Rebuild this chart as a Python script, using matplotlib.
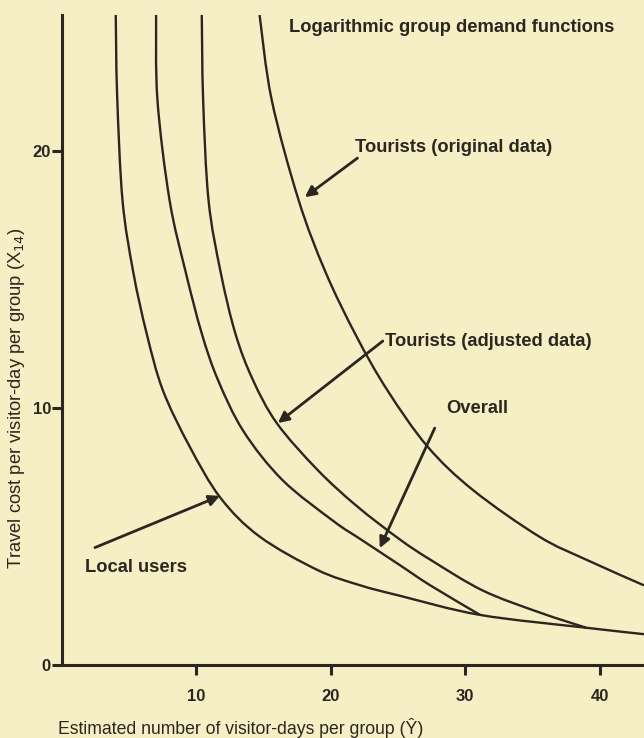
import numpy as np
import matplotlib.pyplot as plt
from matplotlib.path import Path
from matplotlib.patches import PathPatch

plt.rcParams['font.family'] = ['Liberation Sans', 'DejaVu Sans']

bg = '#f6eec4'
ink = '#2b2620'

# traced curves: x = visitor-days per group, y = travel cost
local_x = [4.0, 4.1, 4.5, 5.3, 6.3, 7.5, 9.5, 11.8, 14.7, 19.0, 22.2, 25.1, 31.1, 39.0, 43.3]
local_y = [25.3, 22.2, 18.1, 15.3, 12.9, 10.7, 8.5, 6.5, 5.0, 3.7, 3.1, 2.7, 1.95, 1.45, 1.2]

overall_x = [7.0, 7.1, 8.0, 9.2, 10.4, 11.6, 13.5, 16.4, 20.2, 22.2, 25.1, 27.4, 31.1]
overall_y = [25.3, 22.0, 18.1, 15.3, 12.9, 11.1, 9.1, 7.2, 5.6, 4.9, 3.9, 3.1, 1.95]

adj_x = [10.4, 10.5, 10.9, 11.8, 12.9, 14.2, 16.0, 19.0, 21.9, 25.1, 27.4, 31.3, 35.5, 39.0]
adj_y = [25.3, 22.0, 18.1, 15.3, 12.9, 11.1, 9.4, 7.6, 6.2, 4.9, 4.1, 2.9, 2.05, 1.45]

orig_x = [14.7, 15.6, 17.6, 19.6, 21.9, 24.2, 27.2, 30.6, 35.5, 39.0, 43.3]
orig_y = [25.3, 22.0, 18.1, 15.3, 12.8, 10.7, 8.5, 6.8, 5.0, 4.1, 3.1]

xticks = [10, 20, 30, 40]
yticks = [0, 10, 20]


def smooth_path(xs, ys):
    # catmull-rom through the traced points, drawn as bezier segments
    p = np.column_stack([xs, ys])
    ext = np.vstack([p[0], p, p[-1]])
    verts = [p[0]]
    codes = [Path.MOVETO]
    for i in range(1, len(ext) - 2):
        c1 = ext[i] + (ext[i+1] - ext[i-1]) / 6
        c2 = ext[i+1] - (ext[i+2] - ext[i]) / 6
        verts += [c1, c2, ext[i+1]]
        codes += [Path.CURVE4] * 3
    return Path(verts, codes)


fig = plt.figure(figsize=(6.44, 7.38), dpi=100, facecolor=bg)
ax = fig.add_axes([62/644, 73/738, 582/644, 650/738])
ax.set_facecolor(bg)

for xs, ys in [(local_x, local_y), (overall_x, overall_y), (adj_x, adj_y), (orig_x, orig_y)]:
    ax.add_patch(PathPatch(smooth_path(xs, ys), fill=False, edgecolor=ink, lw=1.7))

ax.set_xlim(0, 43.3)
ax.set_ylim(0, 25.3)
for s in ['top', 'right']:
    ax.spines[s].set_visible(False)
for s in ['left', 'bottom']:
    ax.spines[s].set_linewidth(2.2)
    ax.spines[s].set_color(ink)

ax.set_xticks(xticks)
ax.set_yticks(yticks)
ax.tick_params(direction='out', length=7, width=2.2, color=ink, labelcolor=ink,
               labelsize=12)
ax.tick_params(axis='x', pad=10)
ax.tick_params(axis='y', pad=1)
for lab in ax.get_xticklabels() + ax.get_yticklabels():
    lab.set_fontweight('bold')

ax.set_xlabel('Estimated number of visitor-days per group (Ŷ)', fontsize=12.7, color=ink)
ax.xaxis.set_label_coords(0.3076, -0.082)
ax.set_ylabel('Travel cost per visitor-day per group (X$_{14}$)', fontsize=13.2, color=ink)
ax.yaxis.set_label_coords(-0.06, 0.41)

fs = 13.2
ax.text(16.9, 24.8, 'Logarithmic group demand functions', fontsize=fs,
        fontweight='bold', color=ink, va='center')

arrow = dict(arrowstyle='-|>', color=ink, lw=2, mutation_scale=16, shrinkA=0, shrinkB=0)
ax.annotate('', xy=(18.07, 18.21), xytext=(21.98, 19.73), arrowprops=arrow)
ax.text(21.8, 20.15, 'Tourists (original data)', fontsize=fs, fontweight='bold',
        color=ink, va='center')

ax.annotate('', xy=(16.06, 9.42), xytext=(23.87, 12.61), arrowprops=arrow)
ax.text(24.0, 12.6, 'Tourists (adjusted data)', fontsize=fs, fontweight='bold',
        color=ink, va='center')

ax.annotate('', xy=(23.64, 4.55), xytext=(27.73, 9.22), arrowprops=arrow)
ax.text(28.6, 10.0, 'Overall', fontsize=fs, fontweight='bold', color=ink, va='center')

ax.annotate('', xy=(11.75, 6.58), xytext=(2.45, 4.57), arrowprops=arrow)
ax.text(1.7, 3.81, 'Local users', fontsize=fs, fontweight='bold', color=ink, va='center')

plt.savefig('out.png', dpi=100, facecolor=bg)
